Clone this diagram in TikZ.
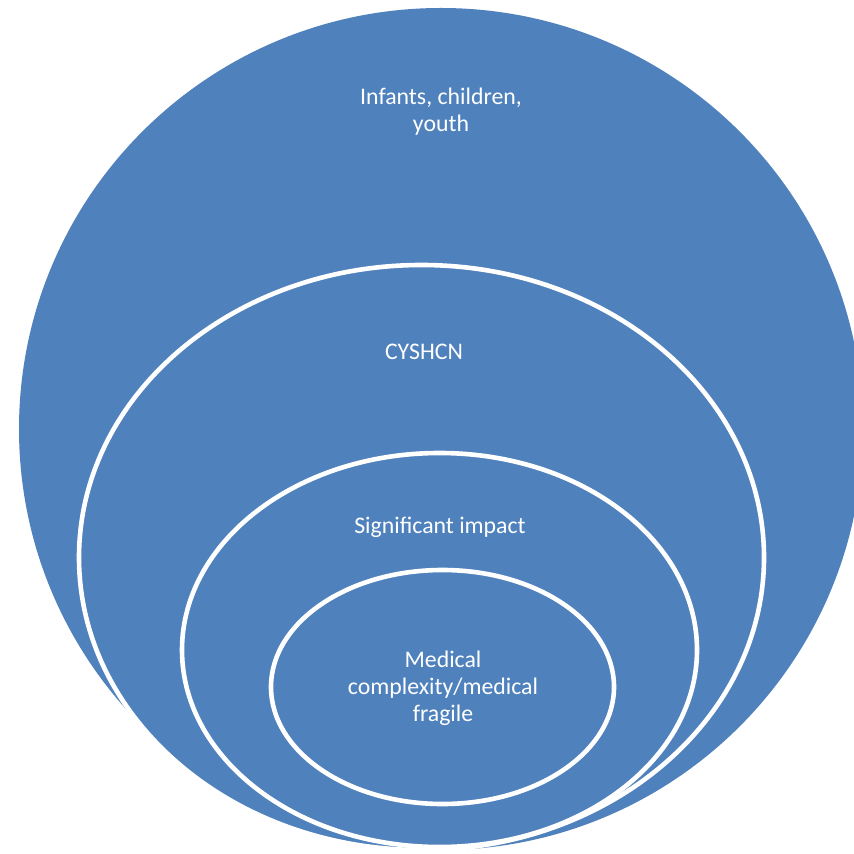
\documentclass[tikz,border=0pt]{standalone}
\usepackage{fontspec}
\setmainfont{Carlito}
\definecolor{ringblue}{RGB}{79,129,189}
\tikzset{
	ring/.style={fill=ringblue, draw=white, line width=2.3pt},
	ringtext/.style={text=white, align=center, font=\fontsize{11.9}{13.6}\selectfont, inner sep=0pt}
}
\begin{document}
\begin{tikzpicture}[x=0.5pt, y=-0.5pt]
	\useasboundingbox (0,0) rectangle (854,854);
	\clip (0,0) rectangle (854,854);
	\fill[white] (0,0) rectangle (854,854);
	
	%Outer circle
	\fill[ringblue] (441,429) ellipse [x radius=422, y radius=421];
	\node[ringtext] (infants) at (441,112) {Infants, children,\\youth};
	
	%CYSHCN
	\draw[ring] (421.5,557.5) ellipse [x radius=342.5, y radius=292.5];
	\node[ringtext] (cyshcn) at (424,352) {CYSHCN};
	
	%Significant impact
	\draw[ring] (439.5,650) ellipse [x radius=257.5, y radius=197];
	\node[ringtext] (impact) at (440,527) {Significant impact};
	
	%Medical complexity
	\draw[ring] (442.5,687) ellipse [x radius=171.5, y radius=117];
	\node[ringtext] (medical) at (443,688) {Medical\\complexity/medical\\fragile};
\end{tikzpicture}
\end{document}
